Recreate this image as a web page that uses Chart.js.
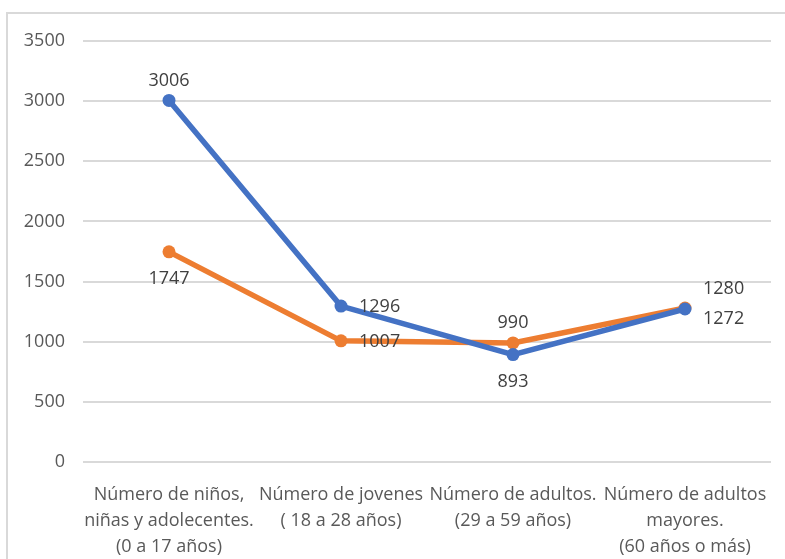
<!DOCTYPE html>
<html>
<head>
<meta charset="utf-8">
<script src="https://cdn.jsdelivr.net/npm/chart.js@4.4.0/dist/chart.umd.min.js"></script>
<style>
	body { margin: 0; background: #fff; overflow: hidden; }
	#wrap { position: relative; width: 785px; height: 559px; }
	#frame { position: absolute; left: 6px; top: 12px; width: 820px; height: 600px; border: 2px solid #d9d9d9; }
	#chart { position: absolute; left: 0; top: 0; }
</style>
</head>
<body>
<div id="wrap">
	<div id="frame"></div>
	<canvas id="chart" width="785" height="559"></canvas>
</div>
<script>
var categories = [
	['Número de niños,', 'niñas y adolecentes.', '(0 a 17 años)'],
	['Número de jovenes', '( 18 a 28 años)'],
	['Número de adultos.', '(29 a 59 años)'],
	['Número de adultos', 'mayores.', '(60 años o más)']
];
var seriesBlue = [3006, 1296, 893, 1272];
var seriesOrange = [1747, 1007, 990, 1280];
var yTicks = [0, 500, 1000, 1500, 2000, 2500, 3000, 3500];

// where each value label sits relative to its point
var bluePos = ['top', 'right', 'bottom', 'right'];
var bluePosDy = [0, 1, 0, 10];
var orangePos = ['bottom', 'right', 'top', 'right'];
var orangePosDy = [0, 1, 0, -19];

var FONT = '"Open Sans", sans-serif';

var valueLabels = {
	id: 'valueLabels',
	afterDatasetsDraw: function(chart) {
		var ctx = chart.ctx;
		ctx.save();
		ctx.font = '18px ' + FONT;
		ctx.fillStyle = '#404040';
		chart.data.datasets.forEach(function(ds, i) {
			var meta = chart.getDatasetMeta(i);
			meta.data.forEach(function(pt, j) {
				var pos = ds.labelPos[j];
				var x = pt.x, y = pt.y + ds.labelDy[j];
				ctx.textBaseline = 'middle';
				if (pos === 'top') { ctx.textAlign = 'center'; y -= 20; }
				else if (pos === 'bottom') { ctx.textAlign = 'center'; y += 27; }
				else { ctx.textAlign = 'left'; x += 18; }
				ctx.fillText(String(ds.data[j]), x, y);
			});
		});
		ctx.restore();
	}
};

var ctxChart = document.getElementById('chart').getContext('2d');
var chart = new Chart(ctxChart, {
	type: 'line',
	data: {
		labels: categories,
		datasets: [{
			label: 'Serie 1',
			data: seriesBlue,
			borderColor: '#4472C4',
			backgroundColor: '#4472C4',
			borderWidth: 5.5,
			pointRadius: 6.5,
			pointBorderWidth: 0,
			tension: 0,
			labelPos: bluePos,
			labelDy: bluePosDy
		}, {
			label: 'Serie 2',
			data: seriesOrange,
			borderColor: '#ED7D31',
			backgroundColor: '#ED7D31',
			borderWidth: 5.5,
			pointRadius: 6.5,
			pointBorderWidth: 0,
			tension: 0,
			labelPos: orangePos,
			labelDy: orangePosDy
		}]
	},
	options: {
		responsive: false,
		animation: false,
		devicePixelRatio: 1,
		layout: { padding: { top: 41, right: 14, bottom: 0, left: 0 } },
		plugins: {
			legend: { display: false },
			tooltip: { enabled: false }
		},
		scales: {
			x: {
				offset: true,
				grid: { display: false },
				border: { display: false },
				ticks: {
					autoSkip: false,
					maxRotation: 0,
					minRotation: 0,
					padding: 12,
					color: '#595959',
					font: { family: FONT, size: 18, lineHeight: 1.45 }
				},
				afterFit: function(scale) {
					scale.height = 97;
					scale.paddingLeft = 0;
					scale.paddingRight = 0;
				}
			},
			y: {
				min: 0,
				max: 3500,
				afterBuildTicks: function(scale) {
					scale.ticks = yTicks.map(function(v) { return { value: v }; });
				},
				grid: { color: '#d9d9d9', lineWidth: 2, drawTicks: false },
				border: { display: false },
				ticks: {
					padding: 18,
					color: '#595959',
					font: { family: FONT, size: 18 },
					callback: function(v) { return String(v); }
				},
				afterFit: function(scale) {
					scale.width = 83;
				}
			}
		}
	},
	plugins: [valueLabels]
});
</script>
</body>
</html>
